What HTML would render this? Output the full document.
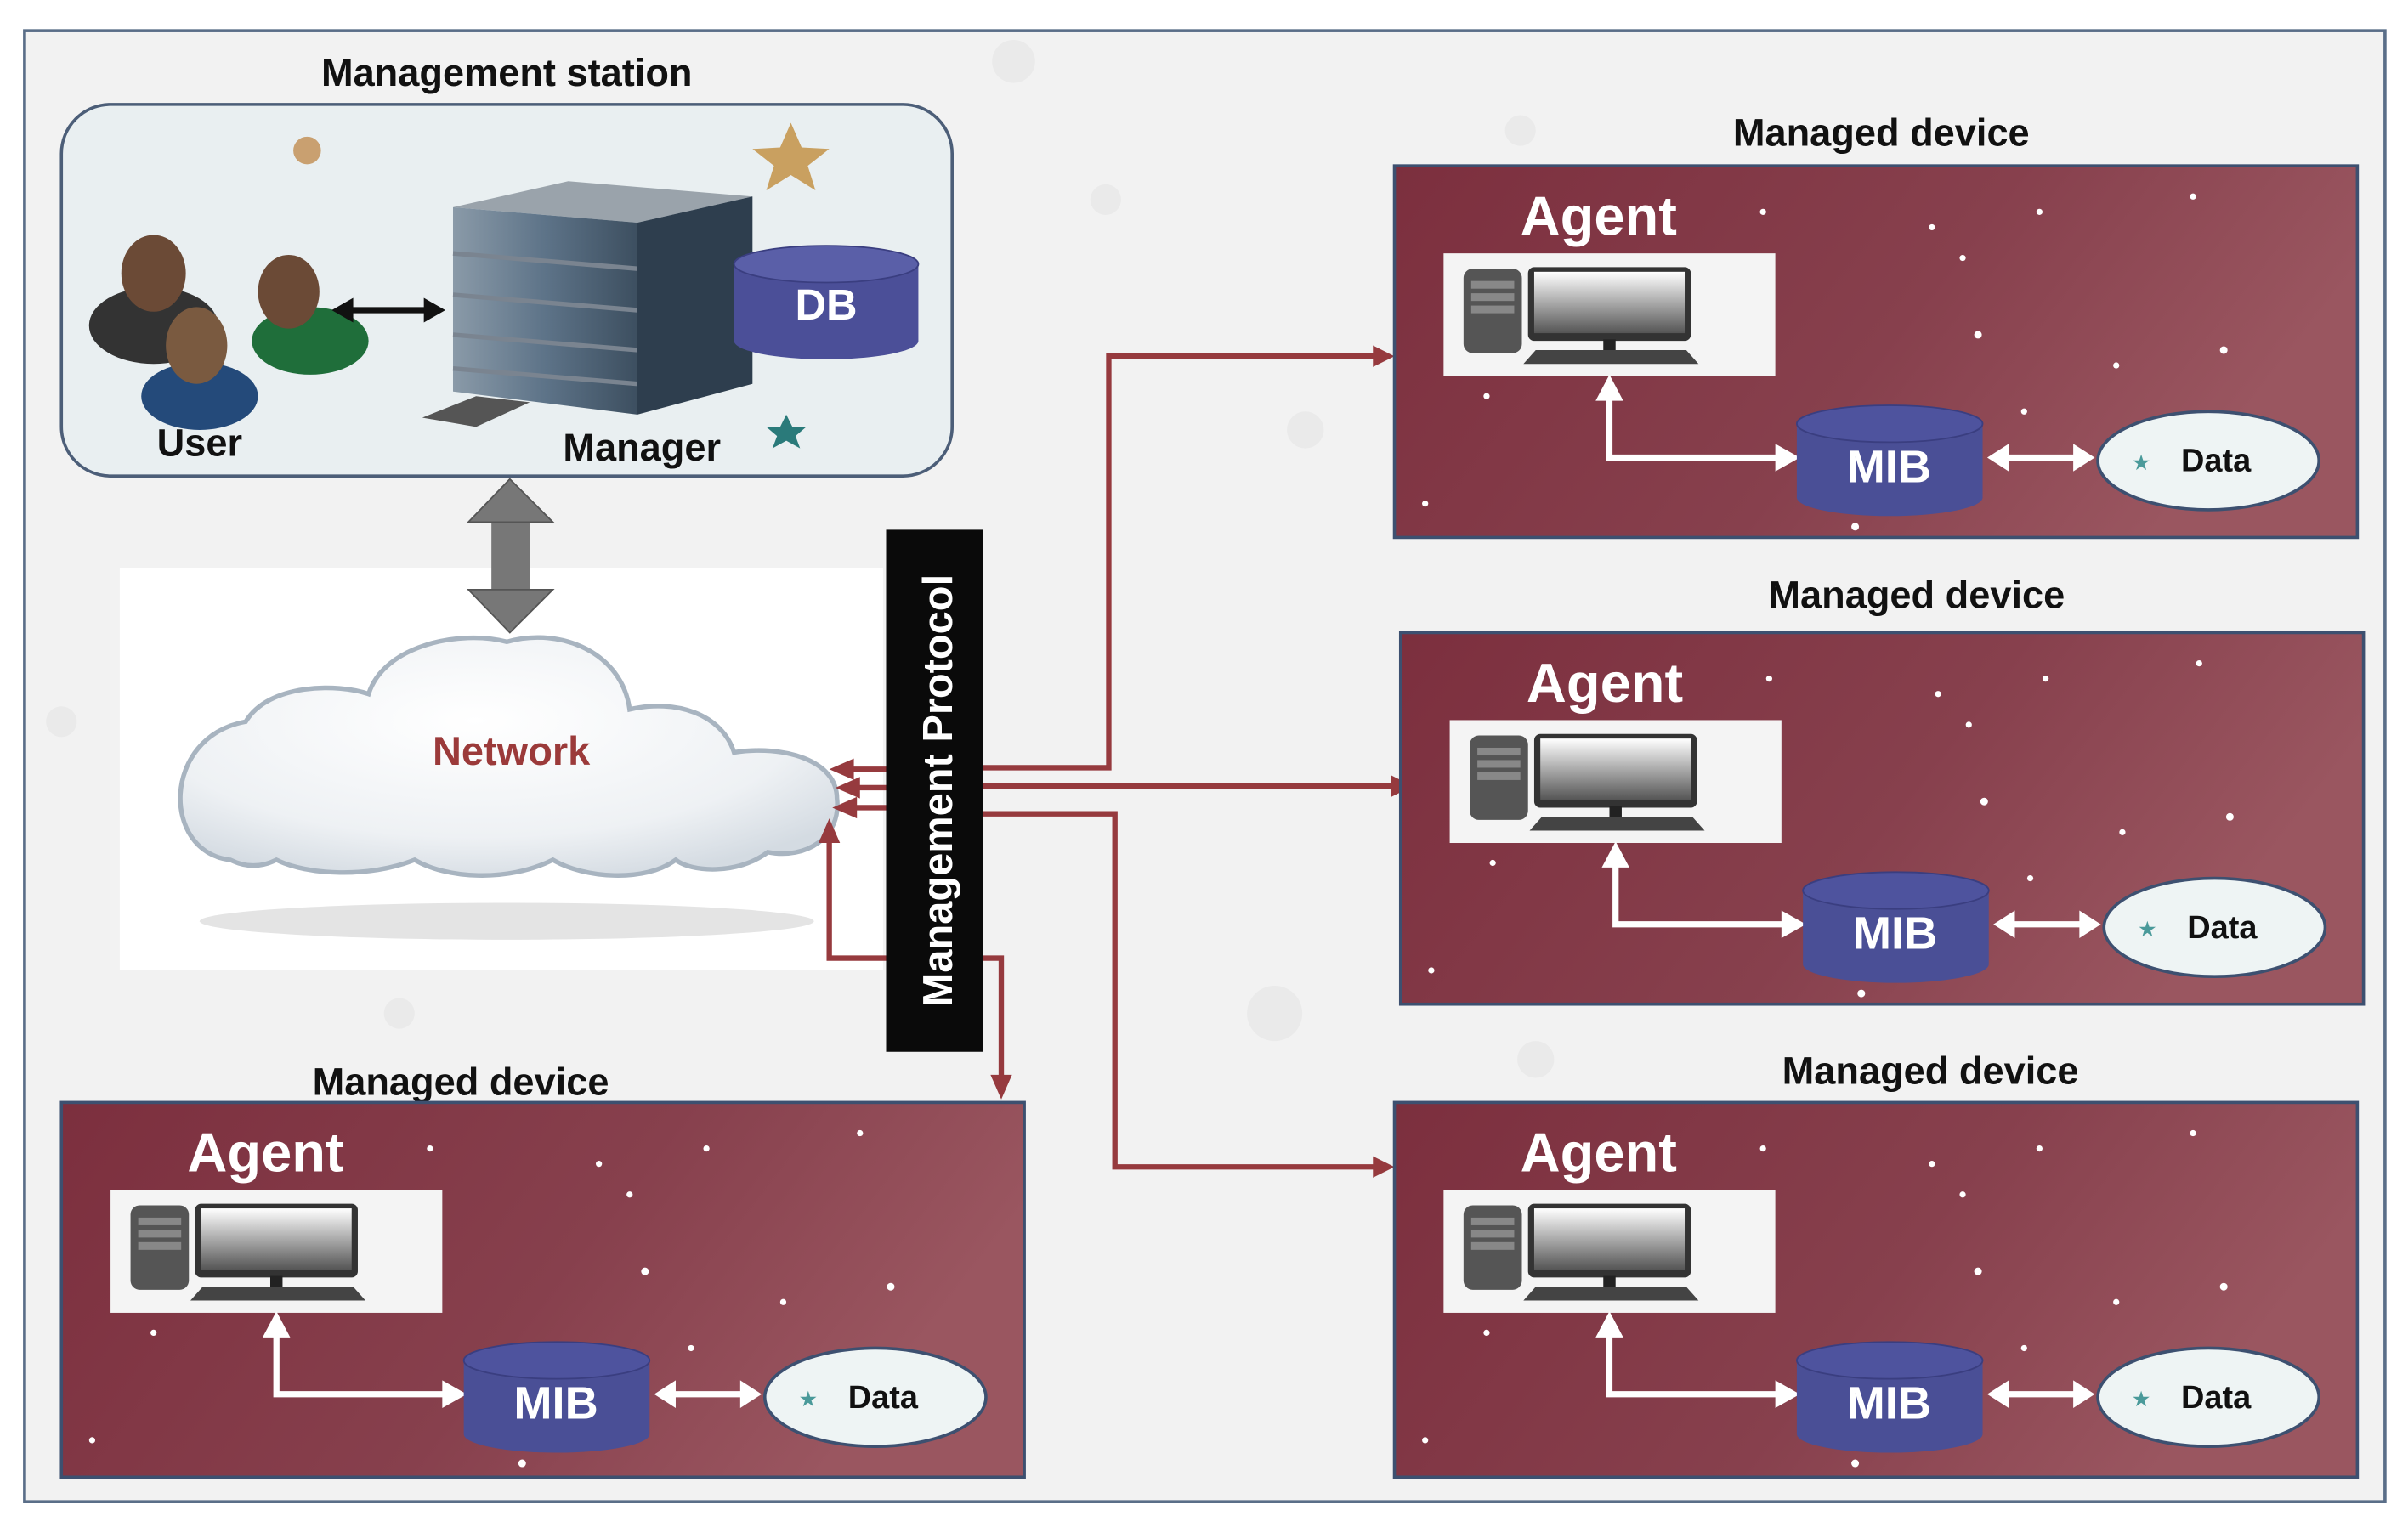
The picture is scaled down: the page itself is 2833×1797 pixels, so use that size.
<!DOCTYPE html>
<html><head><meta charset="utf-8"><style>
html,body{margin:0;padding:0;background:#fff}
svg{display:block}
text{font-family:"Liberation Sans","DejaVu Sans",sans-serif;font-weight:bold}
</style></head><body>
<svg width="2833" height="1797" viewBox="0 0 1568 994.5" preserveAspectRatio="none" xmlns="http://www.w3.org/2000/svg">
<defs>
<linearGradient id="pg" x1="0" y1="0" x2="1" y2="0.3">
<stop offset="0" stop-color="#7c2f3e"/><stop offset="0.6" stop-color="#87404d"/><stop offset="1" stop-color="#9a5660"/></linearGradient>
<linearGradient id="mon" x1="0" y1="0" x2="0" y2="1"><stop offset="0" stop-color="#fff"/><stop offset="1" stop-color="#555"/></linearGradient>
<radialGradient id="cl" cx="0.45" cy="0.35" r="0.7"><stop offset="0" stop-color="#ffffff"/><stop offset="0.7" stop-color="#eef1f4"/><stop offset="1" stop-color="#d4dbe2"/></radialGradient>
<linearGradient id="bld" x1="0" y1="0" x2="1" y2="0"><stop offset="0" stop-color="#8a9aa8"/><stop offset="0.5" stop-color="#5d7388"/><stop offset="1" stop-color="#3d4f60"/></linearGradient>
</defs>
<rect width="1568" height="994.5" fill="#fff"/>
<rect x="16" y="20" width="1537" height="958" fill="#f2f2f2" stroke="#5a6e88" stroke-width="2"/>
<g fill="#dcdcdc" opacity="0.35">
<circle cx="660" cy="40" r="14"/><circle cx="850" cy="280" r="12"/><circle cx="830" cy="660" r="18"/><circle cx="990" cy="85" r="10"/><circle cx="720" cy="130" r="10"/><circle cx="40" cy="470" r="10"/><circle cx="1000" cy="690" r="12"/><circle cx="260" cy="660" r="10"/>
</g>
<!-- Management station -->
<text x="330" y="56" font-size="25" text-anchor="middle" fill="#111">Management station</text>
<rect x="40" y="68" width="580" height="242" rx="32" fill="#e9eff1" stroke="#4c5e78" stroke-width="2"/>
<circle cx="200" cy="98" r="9" fill="#c9a070"/>
<polygon points="515,80 522,96 540,97 526,108 531,124 515,114 499,124 504,108 490,97 508,96" fill="#c9a060"/>
<polygon points="512,270 516,278 525,278 518,284 521,292 512,287 503,292 506,284 499,278 508,278" fill="#2a7a7a"/>
<!-- users -->
<ellipse cx="100" cy="212" rx="42" ry="25" fill="#333"/>
<ellipse cx="100" cy="178" rx="21" ry="25" fill="#6b4a36"/>
<ellipse cx="202" cy="222" rx="38" ry="22" fill="#1f6e3a"/>
<ellipse cx="188" cy="190" rx="20" ry="24" fill="#6b4a36"/>
<ellipse cx="130" cy="258" rx="38" ry="22" fill="#244a7a"/>
<ellipse cx="128" cy="225" rx="20" ry="25" fill="#7a5a40"/>
<!-- black double arrow -->
<line x1="226" y1="202" x2="278" y2="202" stroke="#111" stroke-width="4"/>
<polygon points="216,202 230,194 230,210" fill="#111"/><polygon points="290,202 276,194 276,210" fill="#111"/>
<!-- building -->
<polygon points="295,135 370,118 490,128 415,145" fill="#9aa3ab"/>
<polygon points="295,135 415,145 415,270 295,255" fill="url(#bld)"/>
<polygon points="415,145 490,128 490,250 415,270" fill="#2e3e4e"/>
<g stroke="#7a8490" stroke-width="3"><line x1="295" y1="165" x2="415" y2="175"/><line x1="295" y1="192" x2="415" y2="202"/><line x1="295" y1="218" x2="415" y2="228"/><line x1="295" y1="240" x2="415" y2="250"/></g>
<polygon points="275,272 310,258 345,262 310,278" fill="#555"/>
<!-- DB -->
<path d="M478,172 v50 a60,12 0 0 0 120,0 v-50 z" fill="#4b4f98"/>
<ellipse cx="538" cy="172" rx="60" ry="12" fill="#5a5fa8" stroke="#3a3e80"/>
<text x="538" y="208" font-size="28" fill="#fff" text-anchor="middle">DB</text>
<text x="130" y="297" font-size="25" fill="#111" text-anchor="middle">User</text>
<text x="418" y="300" font-size="25" fill="#111" text-anchor="middle">Manager</text>
<!-- white area and cloud -->
<rect x="78" y="370" width="497" height="262" fill="#fff"/>
<!-- gray double arrow -->
<rect x="320" y="330" width="25" height="64" fill="#777"/>
<polygon points="332,312 305,340 360,340" fill="#777" stroke="#555"/>
<polygon points="332,412 305,384 360,384" fill="#777" stroke="#555"/>
<ellipse cx="330" cy="600" rx="200" ry="12" fill="#e4e4e4"/>
<path d="M150,560 C105,555 105,480 160,470 C175,445 220,445 240,452 C250,420 300,410 330,418 C365,408 405,425 410,462 C440,455 470,465 478,490 C510,485 545,495 545,520 C548,545 525,560 500,555 C480,570 450,568 440,560 C420,575 380,572 360,560 C330,575 290,572 270,560 C240,572 200,570 180,560 C170,565 160,565 150,560 Z" fill="url(#cl)" stroke="#a8b4c0" stroke-width="3"/>
<text x="333" y="498" font-size="26" fill="#9b3a3a" text-anchor="middle">Network</text>
<!-- red connectors -->
<g stroke="#963a3e" stroke-width="3.5" fill="none">
<path d="M640,500 H722 V232 H896"/>
<path d="M640,512 H908"/>
<path d="M640,530 H726 V760 H896"/>
<path d="M577,501 H552"/><path d="M577,513 H556"/><path d="M577,526 H554"/>
<path d="M577,624 H540 V545"/>
<path d="M640,624 H652 V704"/>
</g>
<g fill="#963a3e">
<polygon points="908,232 894,225 894,239"/>
<polygon points="920,512 906,505 906,519"/>
<polygon points="908,760 894,753 894,767"/>
<polygon points="540,501 556,494 556,508"/>
<polygon points="544,513 560,506 560,520"/>
<polygon points="542,526 558,519 558,533"/>
<polygon points="540,533 533,549 547,549"/>
<polygon points="652,716 645,700 659,700"/>
</g>
<!-- Management Protocol bar -->
<rect x="577" y="345" width="63" height="340" fill="#0a0a0a"/>
<text transform="translate(620,515) rotate(-90)" font-size="27" fill="#fff" text-anchor="middle">Management Protocol</text>

<!-- Panels -->
<text x="1225" y="95" font-size="25" fill="#111" text-anchor="middle">Managed device</text>
<text x="1248" y="396" font-size="25" fill="#111" text-anchor="middle">Managed device</text>
<text x="1257" y="706" font-size="25" fill="#111" text-anchor="middle">Managed device</text>
<text x="300" y="713" font-size="25" fill="#111" text-anchor="middle">Managed device</text>

<g transform="translate(908,108)">
<rect width="627" height="242" fill="url(#pg)" stroke="#3d5070" stroke-width="2"/>
<g fill="#fff"><circle cx="350" cy="40" r="2"/><circle cx="370" cy="60" r="2"/><circle cx="380" cy="110" r="2.5"/><circle cx="420" cy="30" r="2"/><circle cx="470" cy="130" r="2"/><circle cx="520" cy="20" r="2"/><circle cx="540" cy="120" r="2.5"/><circle cx="560" cy="200" r="2"/><circle cx="340" cy="170" r="2"/><circle cx="240" cy="30" r="2"/><circle cx="60" cy="150" r="2"/><circle cx="20" cy="220" r="2"/><circle cx="300" cy="235" r="2.5"/><circle cx="410" cy="160" r="2"/></g>
<text x="82" y="45" font-size="36" fill="#fff">Agent</text>
<rect x="32" y="57" width="216" height="80" fill="#f4f4f4"/>
<rect x="45" y="67" width="38" height="55" rx="6" fill="#555"/><rect x="50" y="75" width="28" height="5" fill="#888"/><rect x="50" y="83" width="28" height="5" fill="#888"/><rect x="50" y="91" width="28" height="5" fill="#888"/>
<rect x="87" y="66" width="106" height="48" rx="4" fill="#333"/><rect x="91" y="69" width="98" height="40" fill="url(#mon)"/>
<rect x="136" y="113" width="8" height="8" fill="#222"/><polygon points="84,129 198,129 190,120 92,120" fill="#444"/>
<g stroke="#fff" stroke-width="4" fill="none"><path d="M140,150 V190 H250"/><line x1="396" y1="190" x2="444" y2="190"/></g>
<g fill="#fff"><polygon points="131,153 140,136 149,153"/><polygon points="248,181 264,190 248,199"/><polygon points="386,190 400,181 400,199"/><polygon points="456,190 442,181 442,199"/></g>
<path d="M262,168 v48 a60,12 0 0 0 121,0 v-48 z" fill="#4a4f96"/><ellipse cx="322.5" cy="168" rx="60.5" ry="12" fill="#4e539e" stroke="#3a3e80"/>
<text x="322" y="206" font-size="30" fill="#fff" text-anchor="middle">MIB</text>
<ellipse cx="530" cy="192" rx="72" ry="32" fill="#eef4f4" stroke="#3d5070" stroke-width="2"/>
<text x="480" y="198" font-size="14" fill="#4a9a9a">★</text><text x="535" y="199" font-size="21" fill="#111" text-anchor="middle">Data</text>
</g>

<g transform="translate(912,412)">
<rect width="627" height="242" fill="url(#pg)" stroke="#3d5070" stroke-width="2"/>
<g fill="#fff"><circle cx="350" cy="40" r="2"/><circle cx="370" cy="60" r="2"/><circle cx="380" cy="110" r="2.5"/><circle cx="420" cy="30" r="2"/><circle cx="470" cy="130" r="2"/><circle cx="520" cy="20" r="2"/><circle cx="540" cy="120" r="2.5"/><circle cx="560" cy="200" r="2"/><circle cx="340" cy="170" r="2"/><circle cx="240" cy="30" r="2"/><circle cx="60" cy="150" r="2"/><circle cx="20" cy="220" r="2"/><circle cx="300" cy="235" r="2.5"/><circle cx="410" cy="160" r="2"/></g>
<text x="82" y="45" font-size="36" fill="#fff">Agent</text>
<rect x="32" y="57" width="216" height="80" fill="#f4f4f4"/>
<rect x="45" y="67" width="38" height="55" rx="6" fill="#555"/><rect x="50" y="75" width="28" height="5" fill="#888"/><rect x="50" y="83" width="28" height="5" fill="#888"/><rect x="50" y="91" width="28" height="5" fill="#888"/>
<rect x="87" y="66" width="106" height="48" rx="4" fill="#333"/><rect x="91" y="69" width="98" height="40" fill="url(#mon)"/>
<rect x="136" y="113" width="8" height="8" fill="#222"/><polygon points="84,129 198,129 190,120 92,120" fill="#444"/>
<g stroke="#fff" stroke-width="4" fill="none"><path d="M140,150 V190 H250"/><line x1="396" y1="190" x2="444" y2="190"/></g>
<g fill="#fff"><polygon points="131,153 140,136 149,153"/><polygon points="248,181 264,190 248,199"/><polygon points="386,190 400,181 400,199"/><polygon points="456,190 442,181 442,199"/></g>
<path d="M262,168 v48 a60,12 0 0 0 121,0 v-48 z" fill="#4a4f96"/><ellipse cx="322.5" cy="168" rx="60.5" ry="12" fill="#4e539e" stroke="#3a3e80"/>
<text x="322" y="206" font-size="30" fill="#fff" text-anchor="middle">MIB</text>
<ellipse cx="530" cy="192" rx="72" ry="32" fill="#eef4f4" stroke="#3d5070" stroke-width="2"/>
<text x="480" y="198" font-size="14" fill="#4a9a9a">★</text><text x="535" y="199" font-size="21" fill="#111" text-anchor="middle">Data</text>
</g>

<g transform="translate(908,718)">
<rect width="627" height="244" fill="url(#pg)" stroke="#3d5070" stroke-width="2"/>
<g fill="#fff"><circle cx="350" cy="40" r="2"/><circle cx="370" cy="60" r="2"/><circle cx="380" cy="110" r="2.5"/><circle cx="420" cy="30" r="2"/><circle cx="470" cy="130" r="2"/><circle cx="520" cy="20" r="2"/><circle cx="540" cy="120" r="2.5"/><circle cx="560" cy="200" r="2"/><circle cx="340" cy="170" r="2"/><circle cx="240" cy="30" r="2"/><circle cx="60" cy="150" r="2"/><circle cx="20" cy="220" r="2"/><circle cx="300" cy="235" r="2.5"/><circle cx="410" cy="160" r="2"/></g>
<text x="82" y="45" font-size="36" fill="#fff">Agent</text>
<rect x="32" y="57" width="216" height="80" fill="#f4f4f4"/>
<rect x="45" y="67" width="38" height="55" rx="6" fill="#555"/><rect x="50" y="75" width="28" height="5" fill="#888"/><rect x="50" y="83" width="28" height="5" fill="#888"/><rect x="50" y="91" width="28" height="5" fill="#888"/>
<rect x="87" y="66" width="106" height="48" rx="4" fill="#333"/><rect x="91" y="69" width="98" height="40" fill="url(#mon)"/>
<rect x="136" y="113" width="8" height="8" fill="#222"/><polygon points="84,129 198,129 190,120 92,120" fill="#444"/>
<g stroke="#fff" stroke-width="4" fill="none"><path d="M140,150 V190 H250"/><line x1="396" y1="190" x2="444" y2="190"/></g>
<g fill="#fff"><polygon points="131,153 140,136 149,153"/><polygon points="248,181 264,190 248,199"/><polygon points="386,190 400,181 400,199"/><polygon points="456,190 442,181 442,199"/></g>
<path d="M262,168 v48 a60,12 0 0 0 121,0 v-48 z" fill="#4a4f96"/><ellipse cx="322.5" cy="168" rx="60.5" ry="12" fill="#4e539e" stroke="#3a3e80"/>
<text x="322" y="206" font-size="30" fill="#fff" text-anchor="middle">MIB</text>
<ellipse cx="530" cy="192" rx="72" ry="32" fill="#eef4f4" stroke="#3d5070" stroke-width="2"/>
<text x="480" y="198" font-size="14" fill="#4a9a9a">★</text><text x="535" y="199" font-size="21" fill="#111" text-anchor="middle">Data</text>
</g>

<g transform="translate(40,718)">
<rect width="627" height="244" fill="url(#pg)" stroke="#3d5070" stroke-width="2"/>
<g fill="#fff"><circle cx="350" cy="40" r="2"/><circle cx="370" cy="60" r="2"/><circle cx="380" cy="110" r="2.5"/><circle cx="420" cy="30" r="2"/><circle cx="470" cy="130" r="2"/><circle cx="520" cy="20" r="2"/><circle cx="540" cy="120" r="2.5"/><circle cx="560" cy="200" r="2"/><circle cx="340" cy="170" r="2"/><circle cx="240" cy="30" r="2"/><circle cx="60" cy="150" r="2"/><circle cx="20" cy="220" r="2"/><circle cx="300" cy="235" r="2.5"/><circle cx="410" cy="160" r="2"/></g>
<text x="82" y="45" font-size="36" fill="#fff">Agent</text>
<rect x="32" y="57" width="216" height="80" fill="#f4f4f4"/>
<rect x="45" y="67" width="38" height="55" rx="6" fill="#555"/><rect x="50" y="75" width="28" height="5" fill="#888"/><rect x="50" y="83" width="28" height="5" fill="#888"/><rect x="50" y="91" width="28" height="5" fill="#888"/>
<rect x="87" y="66" width="106" height="48" rx="4" fill="#333"/><rect x="91" y="69" width="98" height="40" fill="url(#mon)"/>
<rect x="136" y="113" width="8" height="8" fill="#222"/><polygon points="84,129 198,129 190,120 92,120" fill="#444"/>
<g stroke="#fff" stroke-width="4" fill="none"><path d="M140,150 V190 H250"/><line x1="396" y1="190" x2="444" y2="190"/></g>
<g fill="#fff"><polygon points="131,153 140,136 149,153"/><polygon points="248,181 264,190 248,199"/><polygon points="386,190 400,181 400,199"/><polygon points="456,190 442,181 442,199"/></g>
<path d="M262,168 v48 a60,12 0 0 0 121,0 v-48 z" fill="#4a4f96"/><ellipse cx="322.5" cy="168" rx="60.5" ry="12" fill="#4e539e" stroke="#3a3e80"/>
<text x="322" y="206" font-size="30" fill="#fff" text-anchor="middle">MIB</text>
<ellipse cx="530" cy="192" rx="72" ry="32" fill="#eef4f4" stroke="#3d5070" stroke-width="2"/>
<text x="480" y="198" font-size="14" fill="#4a9a9a">★</text><text x="535" y="199" font-size="21" fill="#111" text-anchor="middle">Data</text>
</g>
</svg>
</body></html>
